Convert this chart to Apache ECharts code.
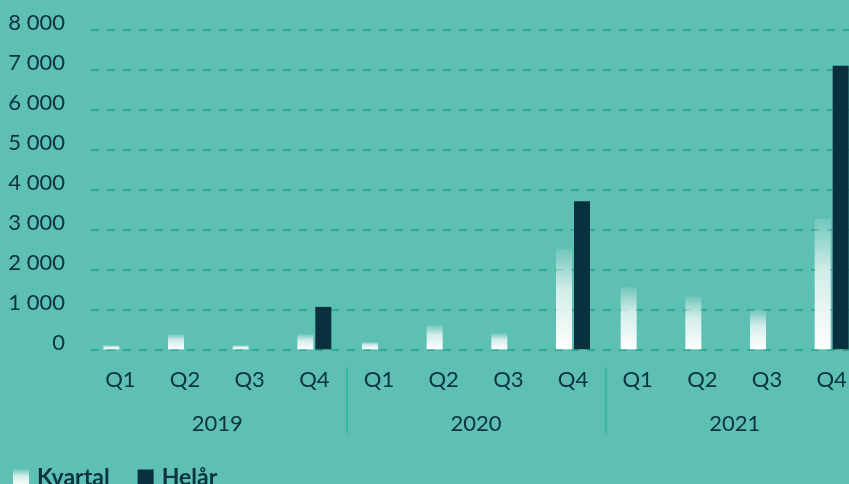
<!DOCTYPE html>
<html>
<head>
<meta charset="utf-8">
<script src="https://cdn.jsdelivr.net/npm/echarts@6/dist/echarts.min.js"></script>
<style>
html,body{margin:0;padding:0;background:#5ebfb3;}
#c{width:849px;height:484px;}
</style>
</head>
<body>
<div id="c"></div>
<script>
const quarters = ['Q1','Q2','Q3','Q4','Q1','Q2','Q3','Q4','Q1','Q2','Q3','Q4'];
const years = ['2019','2020','2021'];
const kvartal = [100, 380, 100, 380, 180, 600, 400, 2500, 1550, 1320, 980, 3260];
const helar = [null, null, null, 1060, null, null, null, 3700, null, null, null, 7090];
const yTicks = [0, 1000, 2000, 3000, 4000, 5000, 6000, 7000, 8000];

const textColor = '#0c3340';
const font = 'Lato';

function fmt(v){ return '{t|' + String(v).replace(/\B(?=(\d{3})+(?!\d))/g, ' ') + '}'; }

const chart = echarts.init(document.getElementById('c'), null, {renderer:'canvas'});
chart.setOption({
  backgroundColor: '#5ebfb3',
  animation: false,
  textStyle: {fontFamily: font},
  grid: {left: 88, width: 776, top: 29.3, bottom: 134.7, containLabel: false, outerBoundsMode: 'none'},
  legend: {
    left: 8, top: 461, itemWidth: 16, itemHeight: 16, itemGap: 28,
    icon: 'rect',
    textStyle: {color: textColor, fontSize: 23, fontWeight: 'bold', fontFamily: font, padding: [0,0,0,3]},
    data: ['Kvartal', 'Helår']
  },
  xAxis: [
    {
      type: 'category', data: quarters, position: 'bottom',
      axisLine: {show: false}, axisTick: {show: false},
      axisLabel: {color: textColor, fontSize: 22, margin: 20, interval: 0, fontFamily: font}
    },
    {
      type: 'category', data: years, position: 'bottom', offset: 18, gridIndex: 0,
      axisLine: {show: false},
      axisTick: {show: true, length: 66, interval: function(i){ return i >= 1; },
        lineStyle: {color: '#2bb29f', width: 1.5}},
      axisLabel: {color: textColor, fontSize: 22, margin: 46, interval: 0, fontFamily: font}
    }
  ],
  yAxis: {
    type: 'value', min: yTicks[0], max: yTicks[yTicks.length-1], interval: 1000,
    axisLine: {show: false}, axisTick: {show: false},
    axisLabel: {margin: 23, formatter: fmt,
      rich: {t: {color: textColor, fontSize: 22, fontFamily: font, padding: [0,0,13,0]}}},
    splitLine: {show: true, lineStyle: {color: '#1fa68e', width: 1.5, type: [8, 8], dashOffset: -3}}
  },
  series: [
    {
      name: 'Kvartal', type: 'bar', xAxisIndex: 0, data: kvartal,
      barWidth: 16, barGap: '12.5%',
      itemStyle: {color: new echarts.graphic.LinearGradient(0, 0, 0, 1, [
        {offset: 0, color: 'rgba(255,255,255,0.12)'},
        {offset: 0.4, color: 'rgba(255,255,255,0.72)'},
        {offset: 1, color: 'rgba(255,255,255,1)'}
      ])}
    },
    {
      name: 'Helår', type: 'bar', xAxisIndex: 0, data: helar,
      barWidth: 16,
      itemStyle: {color: '#08303e'}
    }
  ]
});
</script>
</body>
</html>
